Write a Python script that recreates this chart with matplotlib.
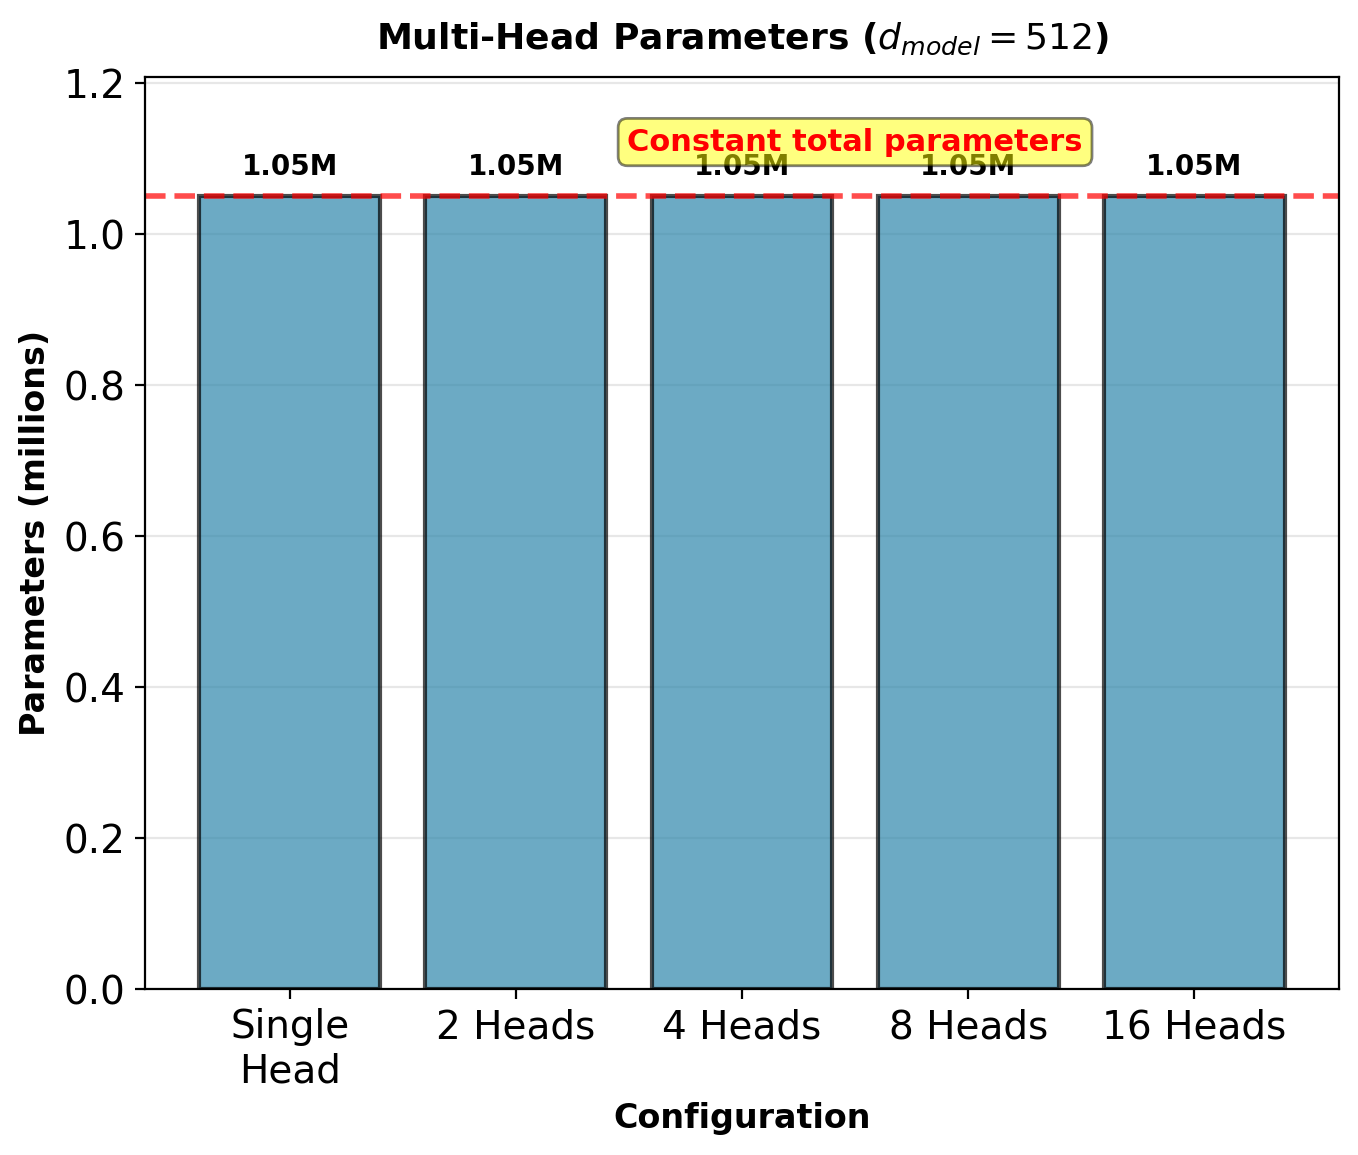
import matplotlib
matplotlib.use("Agg")
import matplotlib.pyplot as plt
import numpy as np

configs = ["Single\nHead", "2 Heads", "4 Heads", "8 Heads", "16 Heads"]
params_millions = [1.050624, 1.050624, 1.050624, 1.050624, 1.050624]
value_labels = ["1.05M", "1.05M", "1.05M", "1.05M", "1.05M"]

fig = plt.figure(figsize=(6.79, 5.775), dpi=200)
ax = fig.add_axes([0.1068, 0.1437, 0.986 - 0.1068, 0.9333 - 0.1437])

x = np.arange(len(configs))
bars = ax.bar(x, params_millions, color="#2E86AB", alpha=0.7, edgecolor="black", linewidth=1.5)
for xi, v, lab in zip(x, params_millions, value_labels):
    ax.text(xi, v + 0.02, lab, ha="center", va="bottom", fontsize=10, fontweight="bold")

ax.axhline(params_millions[0], color="red", linestyle="--", linewidth=2, alpha=0.7)
ax.text(2.5, params_millions[0] * 1.068, "Constant total parameters", ha="center", va="center",
        fontsize=11, fontweight="bold", color="red",
        bbox=dict(boxstyle="round", facecolor="yellow", alpha=0.5))

ax.set_xticks(x)
ax.set_xticklabels(configs, fontsize=14)
ax.tick_params(axis="y", labelsize=14)
ax.set_ylim(0, max(params_millions) * 1.15)
ax.set_xlabel("Configuration", fontsize=12, fontweight="bold")
ax.set_ylabel("Parameters (millions)", fontsize=12, fontweight="bold")
ax.set_title(r"Multi-Head Parameters ($d_{model} = 512$)", fontsize=13, fontweight="bold", pad=10)
ax.grid(axis="y", alpha=0.3)
ax.set_axisbelow(True)

fig.savefig("out.png", dpi=200)
